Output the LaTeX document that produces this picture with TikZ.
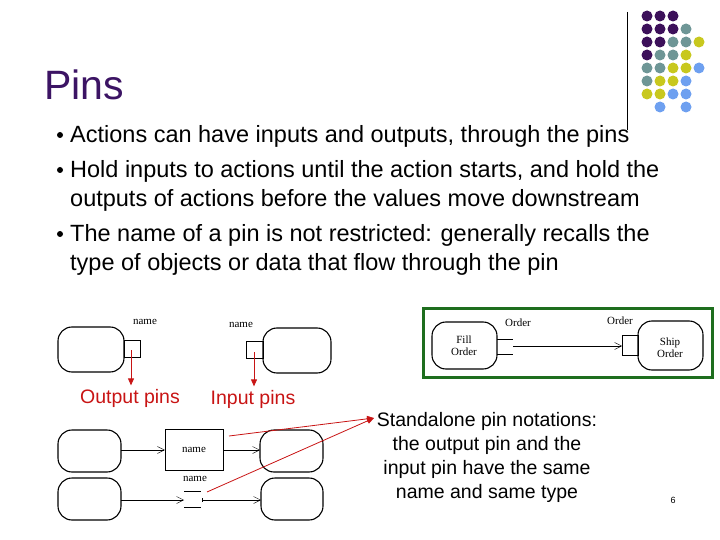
\documentclass[tikz,border=0pt]{standalone}
\usepackage{fontspec}
\setmainfont{Liberation Sans}
\newfontfamily\diagfont{Liberation Serif}
\usetikzlibrary{arrows.meta}
\definecolor{titlepurple}{RGB}{60,20,100}
\definecolor{dotpurple}{RGB}{60,16,90}
\definecolor{dotteal}{RGB}{110,150,150}
\definecolor{dotyellow}{RGB}{200,200,30}
\definecolor{dotblue}{RGB}{110,160,240}
\definecolor{pinred}{RGB}{200,20,20}
\definecolor{boxgreen}{RGB}{30,110,30}
\tikzset{
  act/.style={draw,line width=1.1pt,rounded corners=14pt},
  pinbox/.style={draw},
  flow/.style={-{Straight Barb[length=7pt,width=7pt]}},
  redarrow/.style={pinred,thick,-{Triangle[length=7pt,width=6pt]}},
  small/.style={font=\diagfont\fontsize{11}{12}\selectfont},
  bullet/.style={anchor=north west,inner sep=0pt,align=left,font=\fontsize{23.5}{29}\selectfont}
}
\begin{document}
\begin{tikzpicture}[x=1pt,y=-1pt]
\useasboundingbox (0,0) rectangle (720,540);
% decoration
\draw (627,12) -- (627,130);
\foreach \c/\row [count=\r] in {
  {dotpurple,dotpurple,dotpurple}/1,
  {dotpurple,dotpurple,dotpurple,dotteal}/2,
  {dotpurple,dotpurple,dotteal,dotteal,dotyellow}/3,
  {dotpurple,dotteal,dotteal,dotyellow}/4,
  {dotteal,dotteal,dotyellow,dotyellow,dotblue}/5,
  {dotteal,dotyellow,dotyellow,dotblue}/6,
  {dotyellow,dotyellow,dotblue,dotblue}/7,
  {white,dotblue,white,dotblue}/8}
  \foreach \col [count=\k] in \c
    \fill[\col] (634+13*\k,3+13*\r) circle[radius=5.5];
% title and bullets
\node[anchor=base west,text=titlepurple,font=\fontsize{41}{44}\selectfont] (title) at (41,100) {Pins};
\foreach \y in {135,170,234}
  \fill (60,\y) circle[radius=3];
\node[bullet] (b1) at (70,125) {Actions can have inputs and outputs, through the pins};
\node[bullet] (b2) at (70,160) {Hold inputs to actions until the action starts, and hold the\\outputs of actions before the values move downstream};
\node[bullet] (b3) at (70,224) {The name of a pin is not restricted: generally recalls the\\type of objects or data that flow through the pin};
% output pin
\draw[act] (58,327) rectangle (124,372);
\draw[pinbox] (124,340) rectangle (140,357);
\node[small] (on) at (145,322) {name};
\node[pinred,font=\fontsize{19.5}{22}\selectfont] (outp) at (130,398) {Output pins};
\draw[redarrow] (131,350) -- (outp.north -| 131,0);
% input pin
\draw[act] (263,328) rectangle (331,373);
\draw[pinbox] (246,341) rectangle (263,358);
\node[small] (in) at (241,325) {name};
\node[pinred,font=\fontsize{19.5}{22}\selectfont] (inp) at (253,399) {Input pins};
\draw[redarrow] (254,352) -- (inp.north -| 254,0);
% standalone pin
\draw[act] (58,430) rectangle (121,472);
\node[pinbox,small,minimum width=58pt,minimum height=41pt] (obj) at (194,450) {name};
\draw[act] (260,430) rectangle (323,472);
\draw[flow] (121,450) -- (obj.west);
\draw[flow] (obj.east) -- (260,450);
% pin pair
\draw[act] (58,478) rectangle (121,520);
\draw[act] (261,478) rectangle (323,520);
\node[small] (pn) at (195,479) {name};
\draw (184,491) -- (201,491) (184,507) -- (201,507) (202,498) -- (202,502);
\draw[flow] (121,500) -- (184,500);
\draw[flow] (202,500) -- (261,500);
% notation note
\node[align=center,font=\fontsize{19.5}{24}\selectfont] (note) at (487,457) {Standalone pin notations:\\the output pin and the\\input pin have the same\\name and same type};
\coordinate (tip) at (374,418);
\draw[redarrow] (229,436) -- (tip);
\draw[redarrow] (207,492) -- (tip);
% example
\draw[boxgreen,line width=3pt] (423,308) rectangle (712,377);
\draw[act] (432,322) rectangle (497,369);
\node[small,align=center] (fill) at (464,346) {Fill\\Order};
\draw (497,339) -- (513,339) (497,354) -- (513,354);
\node[small] (o1) at (518,323) {Order};
\draw[pinbox] (622,335) rectangle (638,355);
\draw[act] (638,321) rectangle (703,370);
\node[small,align=center] (ship) at (670,348) {Ship\\Order};
\node[small] (o2) at (620,321) {Order};
\draw[flow] (513,346) -- (622,346);
\node[font=\fontsize{9}{10}\selectfont] (page) at (673,500) {6};
\end{tikzpicture}
\end{document}
